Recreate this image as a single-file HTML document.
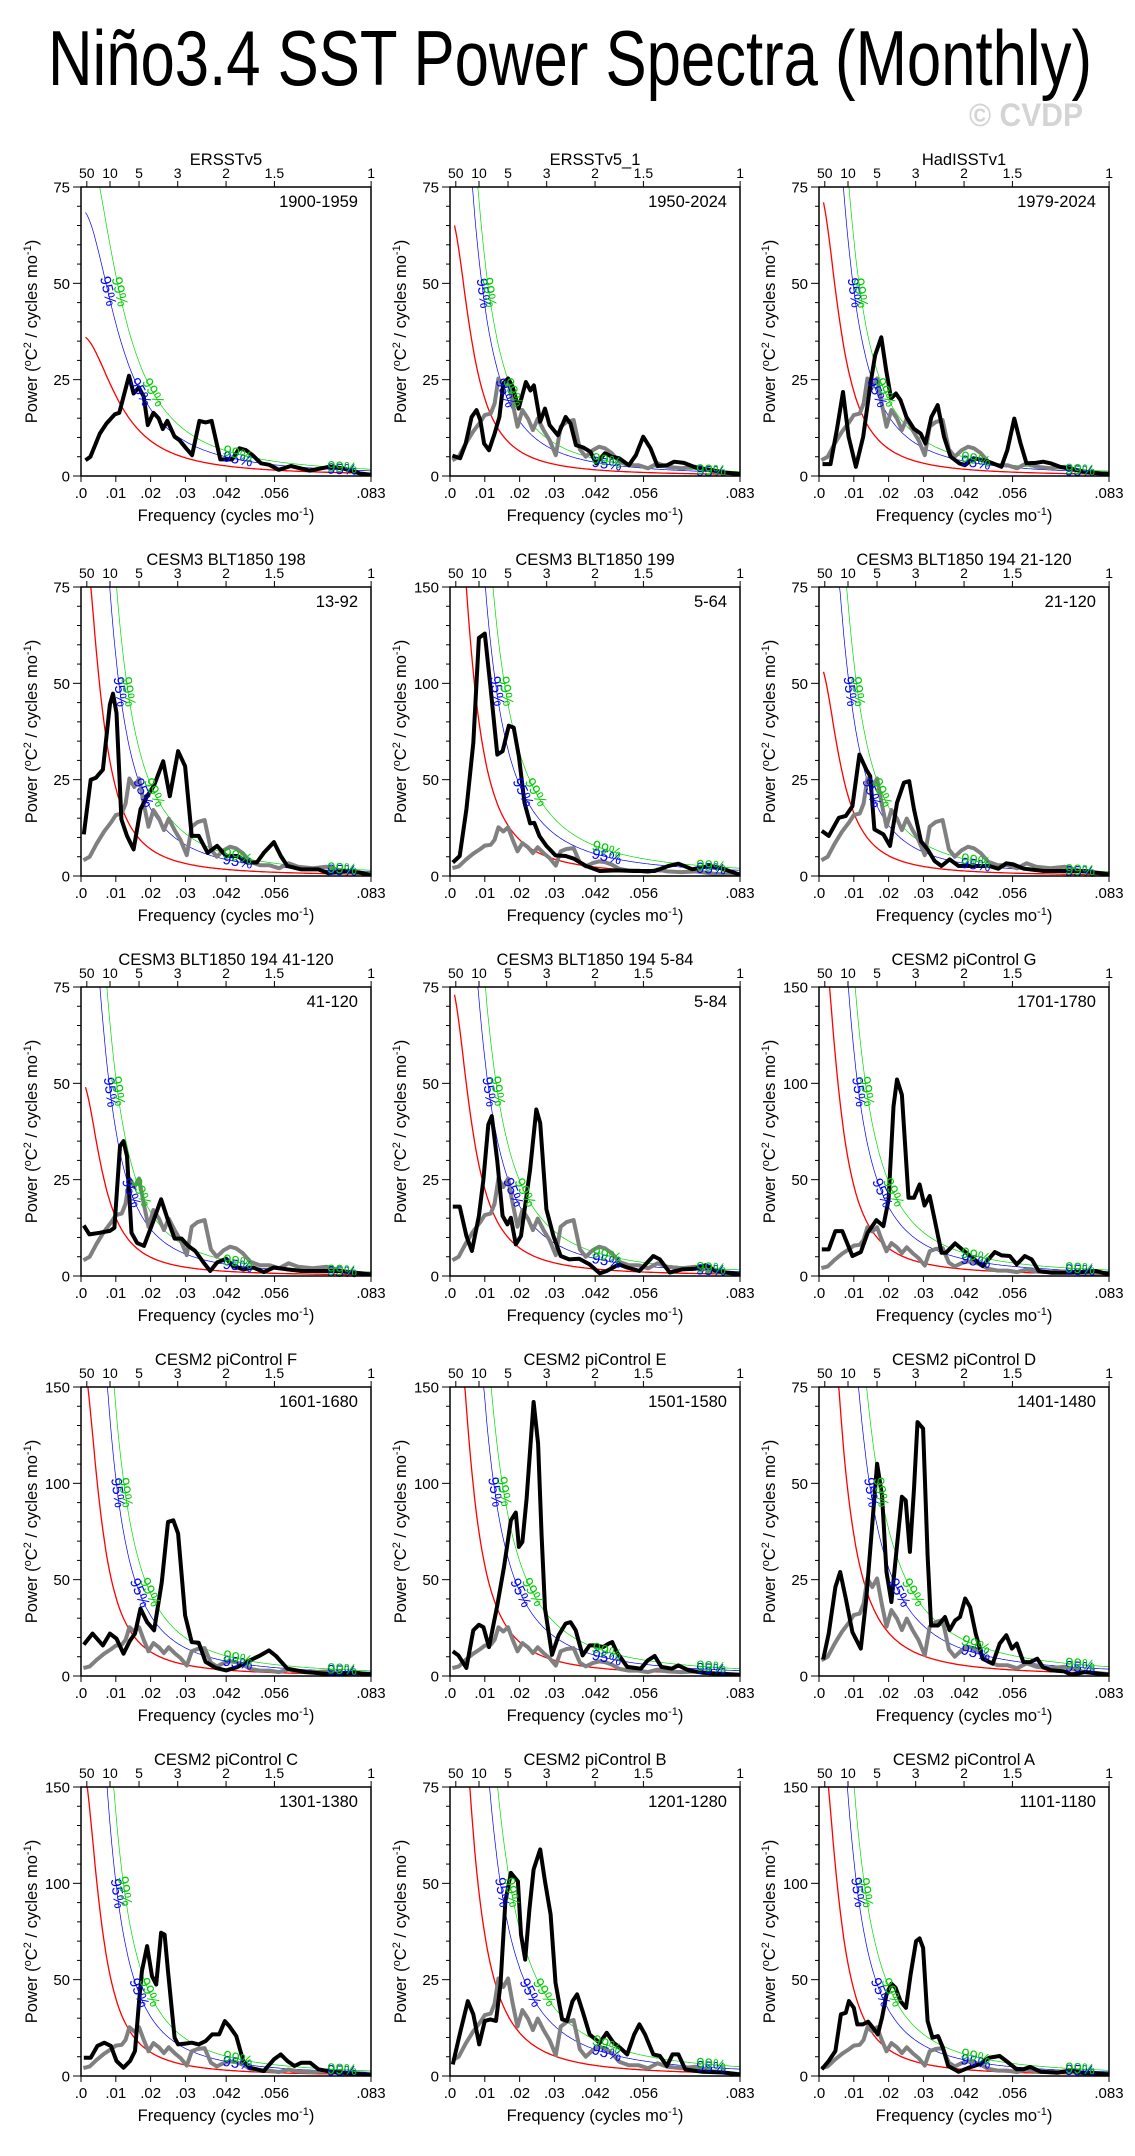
<!DOCTYPE html>
<html><head><meta charset="utf-8"><style>
html,body{margin:0;padding:0;background:#fff}
svg{display:block;font-family:"Liberation Sans",sans-serif}
</style></head><body>
<svg id="chart" width="1135" height="2156" viewBox="0 0 1135 2156" xmlns="http://www.w3.org/2000/svg">
<rect width="1135" height="2156" fill="#fff"/>
<text x="48" y="85" font-size="78" textLength="1044" lengthAdjust="spacingAndGlyphs">Niño3.4 SST Power Spectra (Monthly)</text>
<text x="969" y="126" font-size="32" font-weight="bold" fill="#d4d4d4" textLength="114" lengthAdjust="spacingAndGlyphs">© CVDP</text>
</svg>
<script>
const titles=["ERSSTv5","ERSSTv5_1","HadISSTv1","CESM3 BLT1850 198","CESM3 BLT1850 199","CESM3 BLT1850 194 21-120","CESM3 BLT1850 194 41-120","CESM3 BLT1850 194 5-84","CESM2 piControl G","CESM2 piControl F","CESM2 piControl E","CESM2 piControl D","CESM2 piControl C","CESM2 piControl B","CESM2 piControl A"];
const periods=["1900-1959","1950-2024","1979-2024","13-92","5-64","21-120","41-120","5-84","1701-1780","1601-1680","1501-1580","1401-1480","1301-1380","1201-1280","1101-1180"];
const yMaxes=[75,75,75,75,150,75,75,75,150,150,150,75,150,75,150];
const redStart=[36,65,71,89,240,53,49,73,183,160,224,143,157,143,175];
const redR=[0.93,0.96,0.96,0.965,0.965,0.96,0.96,0.96,0.965,0.965,0.965,0.965,0.965,0.965,0.965];
const conf95=[1.9,2.2,2.2,2.5,2.5,2.5,2.5,2.5,2.5,2.5,2.5,2.5,2.5,2.5,2.5];
const conf99=[2.5,2.8,2.8,3.4,3.4,3.4,3.4,3.4,3.4,3.4,3.4,3.4,3.4,3.4,3.4];
const showGray=[false,true,true,true,true,true,true,true,true,true,true,true,true,true,true];
const xTickVals=[0,0.01,0.02,0.03,0.0417,0.0556,0.0833];
const xTickLabels=[".0",".01",".02",".03",".042",".056",".083"];
const periodTicks=[50,10,5,3,2,1.5,1];
const grayRef=[[.0007,4.1],[.0025,5],[.0045,8.4],[.0066,11.5],[.0087,14],[.01,15.8],[.0117,16.2],[.0128,18.8],[.0139,25.3],[.0153,23.1],[.0167,25.3],[.018,18.8],[.0194,12.8],[.0208,17.1],[.0224,14.9],[.0238,11.9],[.0252,14.9],[.0269,11.9],[.0286,9.3],[.0304,5.4],[.0318,12.8],[.0335,14],[.0355,14.5],[.0373,6.9],[.039,5],[.041,6.7],[.0428,7.6],[.0445,7.2],[.0465,5.9],[.0486,3.7],[.0514,2.8],[.0541,2.8],[.0569,2],[.0596,3.3],[.0624,2.4],[.0665,2],[.0706,2.4],[.0761,1.1],[.0833,.5]];
const s1=[[.0013,4.1],[.0027,5],[.0054,11],[.0073,13.6],[.0097,16],[.011,16.4],[.0138,26],[.0151,21.4],[.0166,23],[.018,20.6],[.0192,13.2],[.0208,16.4],[.0223,15],[.0235,12.2],[.0248,14.3],[.0269,10.2],[.0283,9.3],[.0302,7.2],[.0319,5.4],[.034,14.3],[.0358,13.9],[.0375,14.3],[.04,4.3],[.0434,4.3],[.0455,7.2],[.0474,6.7],[.0493,5.4],[.0517,3.3],[.0541,2.9],[.0568,1.6],[.0603,2.6],[.0656,1.4],[.0713,2.4],[.0752,2],[.08,.7],[.0833,.3]];
const s2=[[.0007,5.3],[.0029,4.6],[.0045,8.4],[.0062,15.3],[.0076,17.1],[.0087,14.5],[.0098,8.4],[.0112,6.7],[.0128,11],[.0142,15.3],[.0153,24],[.0167,25.3],[.018,23.1],[.0197,17.5],[.0218,24.4],[.0231,22.2],[.0241,23.5],[.0259,14.1],[.0273,17.5],[.0286,13.2],[.031,10.6],[.0332,15.3],[.0346,13.6],[.0362,8],[.0383,7.4],[.0403,6.3],[.042,3.3],[.0445,5.9],[.0465,5],[.0486,4.6],[.0514,2.8],[.0534,5.4],[.0555,10.2],[.0576,7.2],[.0596,2.6],[.0624,2.8],[.0644,3.7],[.0672,3.4],[.0706,2.2],[.0748,1.6],[.0789,.9],[.0833,.5]];
const s3=[[.001,3.1],[.0033,3.1],[.0051,11.9],[.0069,21.8],[.0085,10.2],[.0106,2.4],[.0127,10.2],[.0148,24],[.0161,31.3],[.0179,36],[.0193,27.4],[.0207,20.1],[.0221,21.4],[.0234,19.7],[.0251,15.3],[.0272,12.3],[.0292,11],[.0306,8.4],[.0323,15.3],[.0341,18.4],[.0359,10.2],[.0378,5],[.0403,3.3],[.0419,2.8],[.0444,4.6],[.0472,4.1],[.0499,3.3],[.0524,2.4],[.0541,6.7],[.0561,14.9],[.0579,8.4],[.0596,3.3],[.0623,3.4],[.0644,3.7],[.0665,3.3],[.0692,2.4],[.0734,1.6],[.0775,.9],[.0833,.5]];
const s4=[[.0008,10.8],[.0028,25],[.0043,25.5],[.0063,27.6],[.0083,44.5],[.0092,47.3],[.0102,42.3],[.0116,14.7],[.0132,10.4],[.0151,6.9],[.0171,17.3],[.019,20.7],[.021,23.5],[.0236,29.8],[.0255,20.7],[.0279,32.4],[.0299,28.5],[.0318,10.4],[.0338,10.4],[.0364,6],[.0391,7.8],[.0417,5.2],[.045,5.2],[.0476,3.5],[.0505,3.5],[.0525,6],[.0554,8.8],[.0574,5.2],[.0593,2.6],[.0633,1.7],[.0682,1.7],[.0711,.7],[.076,1.3],[.08,.9],[.0833,.2]];
const s5=[[.0008,7],[.0028,10.4],[.0047,34.6],[.0067,69],[.0083,123.6],[.01,125.8],[.0116,98.5],[.0136,63],[.0151,64.8],[.0169,78],[.0183,77],[.0198,62],[.0214,38],[.023,27.3],[.0242,27.6],[.0257,20.7],[.0277,15.6],[.0303,10.7],[.0332,10.4],[.0356,9],[.0391,5.2],[.043,2.6],[.0479,2.9],[.0529,2.6],[.0588,2.6],[.0627,5.2],[.0656,6.4],[.0696,3.5],[.0745,5.2],[.0774,4.3],[.0833,.7]];
const s6=[[.0008,11.7],[.0028,10.4],[.0057,15.1],[.0077,15.6],[.0096,18.1],[.0116,31.5],[.0136,27.6],[.0147,25.9],[.0159,12.1],[.0185,10.8],[.0204,7.8],[.0224,19],[.0244,24.2],[.0259,24.6],[.0273,17.3],[.0293,9],[.0312,6.9],[.0332,3.9],[.0352,2.6],[.0375,4.3],[.0401,2.6],[.043,2.6],[.046,2.6],[.0489,2.6],[.0515,1.9],[.0538,3.3],[.0558,3],[.0588,1.9],[.0646,1.3],[.0705,1.3],[.0764,1.3],[.0833,.4]];
const s7=[[.0008,13.1],[.0024,10.8],[.0053,11.2],[.0083,11.7],[.0096,12.5],[.0112,33.7],[.0122,35],[.0132,31.1],[.0145,11.2],[.0161,8.6],[.0181,7.8],[.0206,13.8],[.023,19.9],[.0249,14.7],[.0269,9.7],[.0289,9.7],[.0308,7.8],[.0328,6.5],[.0352,3.5],[.0371,1.3],[.0391,3.5],[.0417,4.5],[.0436,2.6],[.0466,1.7],[.0495,2.2],[.0525,1],[.0554,2.2],[.0593,1.7],[.0633,1.3],[.0682,1.3],[.0741,1.3],[.0833,.4]];
const s8=[[.0008,18],[.0028,18],[.0047,10.4],[.0063,6.5],[.0083,15.6],[.0096,25],[.011,39.3],[.012,41.5],[.0136,29.8],[.0151,15.6],[.0165,13.4],[.0175,15.1],[.0189,8.2],[.0204,10.4],[.023,27.6],[.0248,43.2],[.0259,39.7],[.0277,17.3],[.0297,10.4],[.0318,5.2],[.0342,4.3],[.0371,4.5],[.0401,3],[.043,.7],[.045,1.3],[.0485,3],[.0509,2.2],[.0544,1.3],[.0584,5.2],[.0603,4.3],[.0631,.9],[.0666,1.7],[.0705,1.9],[.0735,2.8],[.0764,1.3],[.0833,.4]];
const s9=[[.0008,13.8],[.0028,13.8],[.0047,23.3],[.0067,23.3],[.0096,10.4],[.012,12.4],[.014,22.5],[.0165,29],[.0185,25.9],[.02,39.7],[.0214,88],[.0224,102],[.0238,94],[.0257,40.6],[.0273,40.6],[.0289,47.5],[.0303,36.6],[.0318,41.5],[.0332,29.4],[.0352,12.1],[.0365,12.1],[.0391,16.9],[.0411,13.8],[.044,9.5],[.047,5.2],[.0505,12.4],[.0525,10.7],[.0548,10.4],[.0568,6],[.0591,10.4],[.0611,8.6],[.0631,2.6],[.0666,1.7],[.0725,1.7],[.0794,2.6],[.0833,.9]];
const s10=[[.0008,16.3],[.0033,22],[.0063,15.9],[.0083,22],[.0102,19.4],[.0122,11.6],[.0141,18.5],[.0155,22],[.0171,35],[.019,28],[.021,23.7],[.0232,48.8],[.025,80],[.0265,80.8],[.0279,73.9],[.0299,31.5],[.0318,17.6],[.0338,17.3],[.0358,7.3],[.0387,4.2],[.0417,2.9],[.045,4.7],[.0485,8.1],[.0515,10.7],[.054,13.3],[.056,10.4],[.0593,3.8],[.0643,2.1],[.0721,.9],[.079,1.7],[.0833,.7]];
const s11=[[.0008,12.8],[.0024,10.7],[.0047,4.2],[.0067,23.7],[.0083,26.6],[.0096,25.4],[.0112,15],[.0136,36.7],[.0155,56.6],[.0175,80.8],[.0189,84.8],[.0198,67],[.0208,69.6],[.022,92],[.024,142.2],[.0253,120.6],[.0263,73],[.0273,35],[.0293,11],[.0312,21.1],[.0332,27.2],[.0346,28],[.0361,23.7],[.0381,10.7],[.0401,15.9],[.042,15.9],[.044,15],[.0456,16.8],[.0466,17.6],[.0479,12.4],[.0509,4.7],[.0548,3.8],[.0568,8.1],[.0588,10.4],[.0607,4.7],[.0637,3.8],[.0656,5.5],[.0686,2.9],[.0725,1.7],[.0833,.7]];
const s12=[[.0012,4.3],[.0028,11],[.0047,23.1],[.0061,27],[.0077,20.1],[.0096,11.4],[.012,7.1],[.0136,20.1],[.0155,41.7],[.0167,55.1],[.0181,46.9],[.0194,27],[.0208,19.2],[.0224,33.9],[.0238,46.5],[.0249,45.6],[.0261,32.2],[.0273,48.6],[.0283,65.9],[.0299,64.2],[.0312,31.3],[.0322,13.1],[.0342,13.1],[.0362,15.3],[.0375,11.9],[.0391,14.4],[.0405,15.3],[.042,20.1],[.0434,17.9],[.045,11],[.047,4.5],[.0499,3.2],[.0519,8.4],[.0538,10.6],[.0554,7.1],[.0568,8.4],[.0587,3.6],[.0607,3.6],[.0627,4.5],[.0643,2.3],[.0666,1.5],[.0705,1.2],[.0725,.3],[.0764,1],[.0833,.3]];
const s13=[[.0008,9.5],[.0028,9.5],[.0047,15.6],[.0067,17.3],[.0086,15.6],[.0102,7.8],[.0122,4.3],[.0141,7.8],[.0155,13],[.0167,38.9],[.0175,54.4],[.019,67.4],[.0204,51.8],[.0216,47.5],[.023,74.3],[.024,73.4],[.025,54.4],[.0269,19.9],[.0279,16.4],[.0299,16.8],[.0318,17.3],[.0338,16.4],[.0358,18.1],[.0377,21.6],[.0397,21.6],[.0413,28.5],[.0426,25.9],[.0446,20.7],[.0466,7.8],[.0485,4.3],[.0525,2.6],[.0554,8.6],[.0574,11.2],[.0593,7.8],[.0613,5.2],[.0633,6.9],[.0658,6.9],[.0682,3.5],[.0721,2.2],[.0833,.5]];
const s14=[[.0008,3],[.0028,10.8],[.0051,19.4],[.0067,16],[.0084,8.2],[.01,14.3],[.0116,14.7],[.0132,14.3],[.0145,23.8],[.0159,45.4],[.0175,52.7],[.0195,50.5],[.0204,36.7],[.0216,30.2],[.0228,43.2],[.024,53.6],[.0259,58.8],[.0273,50.5],[.0289,41.9],[.0303,24.2],[.0322,14.7],[.0336,14.3],[.0352,19.4],[.0365,21.2],[.0381,16.8],[.0401,10.8],[.043,8.6],[.045,11.2],[.047,8.6],[.0489,7.3],[.0509,5.6],[.0529,10.8],[.0544,13.4],[.056,10.8],[.0584,5.6],[.0603,5.2],[.0623,2.6],[.0639,5.6],[.0656,5.6],[.0676,1.7],[.0725,1.1],[.0784,.9],[.0833,.4]];
const s15=[[.0008,3.5],[.0028,7.8],[.0047,13],[.0063,32],[.0077,32.8],[.0086,38.9],[.01,35.4],[.011,26.8],[.0126,26.8],[.0141,28.2],[.0155,25],[.0169,21.6],[.0181,30.2],[.0194,42.3],[.0208,47.9],[.022,45.8],[.0234,38.9],[.025,35.4],[.0263,52.7],[.0279,70],[.0289,71.4],[.0299,66.5],[.0312,28.5],[.0326,19.9],[.0342,20.7],[.0356,14.7],[.0371,5.2],[.0401,2.2],[.043,4.3],[.046,6],[.0489,9.5],[.0519,10.4],[.0538,7.8],[.0568,3.5],[.0587,3.5],[.0607,4.7],[.0637,2.2],[.0686,1.7],[.0725,2.9],[.0755,1.7],[.0833,.9]];
const series=[s1,s2,s3,s4,s5,s6,s7,s8,s9,s10,s11,s12,s13,s14,s15];

const NS="http://www.w3.org/2000/svg";
const svg=document.getElementById('chart');
const colLeft=[81,450,819], rowTop=[187,587,987,1387,1787], W=290, H=289, FMAX=0.0833;
function mk(tag,attrs,parent){const e=document.createElementNS(NS,tag);for(const k in attrs)e.setAttribute(k,attrs[k]);(parent||svg).appendChild(e);return e;}
function redVal(i,f){const r=redR[i];const d=(ff)=>1-2*r*Math.cos(2*Math.PI*ff)+r*r;return redStart[i]*d(0.0013)/d(f);}

for(let i=0;i<15;i++){
  const L=colLeft[i%3], T=rowTop[Math.floor(i/3)], ym=yMaxes[i];
  const xs=f=>L+f/FMAX*W, ys=v=>T+H-v/ym*H;
  const g=mk('g',{});
  
  
  const cp=mk('clipPath',{id:'cp'+i},g);
  mk('rect',{x:L,y:T,width:W,height:H},cp);
  const t=mk('text',{x:L+W/2,y:T-22,'font-size':16.5,'text-anchor':'middle'},g);t.textContent=titles[i];
  
  
  const pl=mk('text',{x:L+W-13,y:T+20,'font-size':16.5,'text-anchor':'end'},g);pl.textContent=periods[i];
  
  
  const minorStep=ym/15;
  for(let k=0;k<=15;k++){const v=k*minorStep;const y=ys(v);const maj=k%5===0;
    mk('line',{x1:L-(maj?8:4),x2:L,y1:y,y2:y,stroke:'#000','stroke-width':1},g);
    if(maj){const tl=mk('text',{x:L-11,y:y+5.5,'font-size':15,'text-anchor':'end'},g);tl.textContent=String(v);
      
      }
  }
  xTickVals.forEach((f,k)=>{const x=xs(f);
    mk('line',{x1:x,x2:x,y1:T+H,y2:T+H+6,stroke:'#000','stroke-width':1},g);
    const tl=mk('text',{x:x,y:T+H+22,'font-size':15,'text-anchor':'middle'},g);tl.textContent=xTickLabels[k];
    
    });
  periodTicks.forEach(p=>{const x=xs(1/(12*p));
    mk('line',{x1:x,x2:x,y1:T-6,y2:T,stroke:'#000','stroke-width':1},g);
    const tl=mk('text',{x:x,y:T-9,'font-size':14,'text-anchor':'middle'},g);tl.textContent=String(p);
    
    });
  const xl=mk('text',{x:L+W/2,y:T+H+45,'font-size':16.5,'text-anchor':'middle'},g);
  xl.innerHTML='Frequency (cycles mo<tspan dy="-6" font-size="11">-1</tspan><tspan dy="6">)</tspan>';
  
  
  const yl=mk('text',{x:0,y:0,'font-size':16.5,'text-anchor':'middle',transform:`translate(${L-44},${T+H/2}) rotate(-90)`},g);
  yl.innerHTML='Power (<tspan dy="-6" font-size="11">o</tspan><tspan dy="6">C</tspan><tspan dy="-6" font-size="11">2</tspan><tspan dy="6"> / cycles mo</tspan><tspan dy="-6" font-size="11">-1</tspan><tspan dy="6">)</tspan>';
  
  
  const cg=mk('g',{'clip-path':`url(#cp${i})`},g);
  const curves=[[1,'#ff0000',1.3,'red-noise-curve'],[conf95[i],'#0000ff',0.7,'conf-95-curve'],[conf99[i],'#00dd00',0.7,'conf-99-curve']];
  curves.forEach(([m,c,w,nm])=>{let d='';for(let k=0;k<=240;k++){const f=0.0013+(FMAX-0.0013)*k/240;const v=m*redVal(i,f);d+=(k?'L':'M')+xs(f).toFixed(1)+' '+Math.max(T-5,ys(v)).toFixed(1);}
    const p=mk('path',{d:d,fill:'none',stroke:c,'stroke-width':w},cg);
    
    });
  if(showGray[i]){const p=mk('path',{d:grayRef.map((q,k)=>(k?'L':'M')+xs(q[0]).toFixed(1)+' '+ys(q[1]).toFixed(1)).join(''),fill:'none',stroke:'#808080','stroke-width':4,'stroke-linejoin':'round'},cg);
    
    }
  const bp=mk('path',{d:series[i].map((q,k)=>(k?'L':'M')+xs(q[0]).toFixed(1)+' '+ys(q[1]).toFixed(1)).join(''),fill:'none',stroke:'#000','stroke-width':4,'stroke-linejoin':'round'},cg);
  
  
  [[conf95[i],'#0000ff','95%'],[conf99[i],'#00cc00','99%']].forEach(([m,c,txt])=>{
    const fAt=(frac)=>{let f=0.0013;while(f<FMAX&&m*redVal(i,f)>frac*ym)f+=0.0001;return f;};
    [fAt(0.64),fAt(0.29),0.045,0.075].forEach(f=>{
      const x=xs(f),y=ys(m*redVal(i,f));const x2=xs(f+0.0005),y2=ys(m*redVal(i,f+0.0005));
      const ang=Math.atan2(y2-y,x2-x)*180/Math.PI;
      const lt=mk('text',{x:0,y:0,'font-size':15,fill:c,'text-anchor':'middle','dominant-baseline':'central',transform:`translate(${x.toFixed(1)},${y.toFixed(1)}) rotate(${ang.toFixed(1)})`},g);
      lt.textContent=txt;
      
      });
  });
  const box=mk('rect',{x:L,y:T,width:W,height:H,fill:'none',stroke:'#000','stroke-width':1.5},g);
  
  
}
</script>
</body></html>
